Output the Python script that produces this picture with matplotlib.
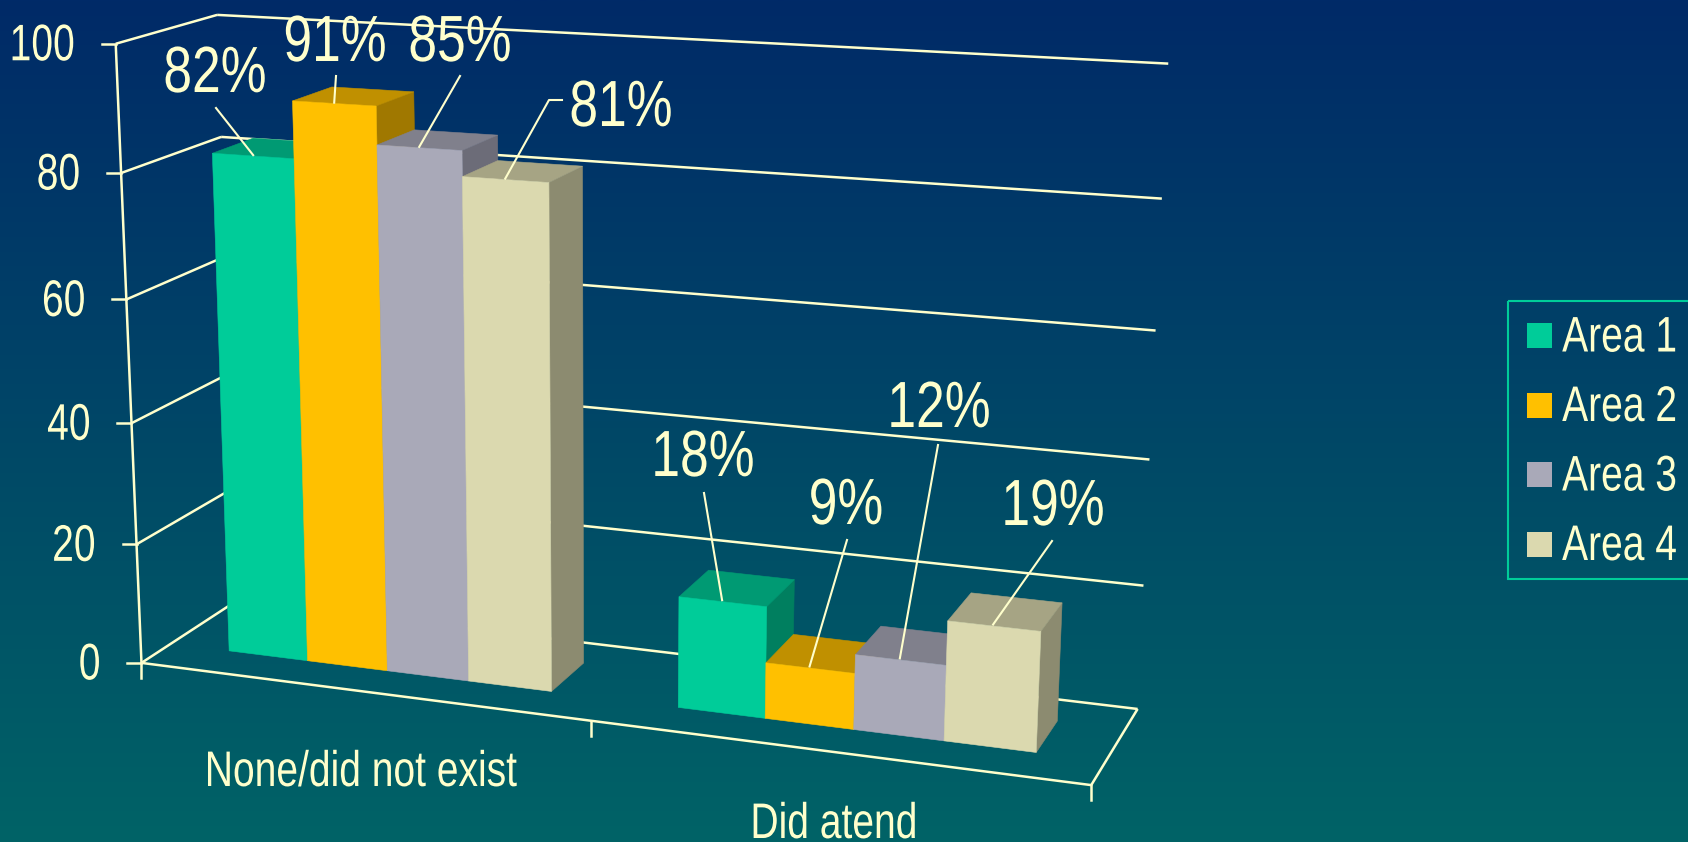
import numpy as np
import matplotlib
matplotlib.use("Agg")
import matplotlib.pyplot as plt
import matplotlib.patheffects as pe
from matplotlib.patches import Polygon, Rectangle
from matplotlib.transforms import Affine2D

plt.rcParams['font.family'] = ['Liberation Sans', 'DejaVu Sans']

categories = ['None/did not exist', 'Did atend']
series = ['Area 1', 'Area 2', 'Area 3', 'Area 4']
values = [[82, 91, 85, 81], [18, 9, 12, 19]]
yticks = [0, 20, 40, 60, 80, 100]

front_colors = ['#00CC99', '#FFC000', '#A9A9B8', '#DBD9AF']
top_colors = ['#009A73', '#C09000', '#80808C', '#A6A484']
side_colors = ['#007F5F', '#A07800', '#6C6C78', '#8C8B70']
ink = '#FFFFCC'

# camera calibration: box corner (category, depth, value) -> figure pixel
# the front left edge is listed three times, it carries the value axis
frame_world = np.array([[0, 0, 0], [2, 0, 0], [2, 1, 0], [0, 1, 0], [0, 0, 100], [0, 1, 100], [2, 1, 100],
                        [2, 1, 80], [0, 0, 80], [0, 0, 20], [2, 1, 20],
                        [0, 0, 0], [0, 0, 100], [0, 0, 0], [0, 0, 100]], dtype=float)
frame_pix = np.array([[142.7, 662], [1090.7, 788], [1138, 706], [231, 604.5], [114.3, 44], [221.7, 14.7], [1168, 64],
                      [1161.7, 198.7], [121, 172], [138, 544], [1144, 585],
                      [142.7, 662], [114.3, 44], [142.7, 662], [114.3, 44]], dtype=float)


def fit_camera(world, pix):
    # linear fit, reweighted a few times so the error is close to pixel error
    weights = np.ones(len(world))
    for _ in range(8):
        rows = []
        for (x, y, z), (u, v), w in zip(world, pix, weights):
            rows.append(np.array([x, y, z, 1, 0, 0, 0, 0, -u * x, -u * y, -u * z, -u]) / w)
            rows.append(np.array([0, 0, 0, 0, x, y, z, 1, -v * x, -v * y, -v * z, -v]) / w)
        _, _, vt = np.linalg.svd(np.array(rows))
        cam = vt[-1].reshape(3, 4)
        weights = np.abs(cam[2] @ np.c_[world, np.ones(len(world))].T)
    return cam


camera = fit_camera(frame_world, frame_pix)


def project(x, y, z):
    p = camera @ np.array([x, y, z, 1.0])
    return p[0] / p[2], p[1] / p[2]


class Narrow(pe.AbstractPathEffect):
    # squeezes glyphs horizontally around the text anchor, gives an Arial Narrow look
    def __init__(self, anchor_x, squeeze, drop=0):
        super().__init__()
        self.anchor_x = anchor_x
        self.squeeze = squeeze
        self.drop = drop

    def draw_path(self, renderer, gc, tpath, affine, rgbFace=None):
        squeeze = Affine2D().translate(-self.anchor_x, -self.drop).scale(self.squeeze, 1).translate(self.anchor_x, 0)
        renderer.draw_path(gc, tpath, affine + squeeze, rgbFace)


def label(ax, x, y, s, size, squeeze=0.78, ha='center', drop=0):
    t = ax.text(x, y, s, color=ink, fontsize=size, ha=ha, va='center', zorder=6)
    t.set_path_effects([Narrow(x, squeeze, drop)])
    return t


def line3d(ax, a, b, lw=1.8):
    pa, pb = project(*a), project(*b)
    ax.plot([pa[0], pb[0]], [pa[1], pb[1]], color=ink, lw=lw, solid_capstyle='butt', zorder=2)


def face(ax, corners, color):
    pts = [project(*c) for c in corners]
    ax.add_patch(Polygon(pts, closed=True, facecolor=color, edgecolor=color, lw=0.4, zorder=3))


fig = plt.figure(figsize=(16.88, 8.42), dpi=100)
ax = fig.add_axes([0, 0, 1, 1])
ax.set_xlim(0, 1688)
ax.set_ylim(842, 0)
ax.axis('off')

# background gradient, navy at the top to teal at the bottom
top_rgb = np.array([0x00, 0x2A, 0x68]) / 255
bottom_rgb = np.array([0x00, 0x63, 0x66]) / 255
t = np.linspace(0, 1, 400)[:, None, None]
ramp = top_rgb[None, None, :] * (1 - t) + bottom_rgb[None, None, :] * t
ax.imshow(ramp, extent=[0, 1688, 842, 0], aspect='auto', zorder=0)

# walls and floor
digit_w = 21.7
for v in yticks:
    line3d(ax, (0, 0, v), (0, 1, v))
    line3d(ax, (0, 1, v), (2, 1, v))
    px, py = project(0, 0, v)
    ax.plot([px - 14, px], [py, py], color=ink, lw=1.8, zorder=2)
    # left anchored, the right edges still follow the slanted axis
    label(ax, px - 41 - len(str(v)) * digit_w, py + 3, str(v), 37, squeeze=0.76, ha='left')
line3d(ax, (0, 0, 0), (0, 0, 100))
line3d(ax, (0, 0, 0), (2, 0, 0))
line3d(ax, (2, 0, 0), (2, 1, 0))
for c in range(3):
    px, py = project(c, 0, 0)
    ax.plot([px, px], [py, py + 15], color=ink, lw=1.8, zorder=2)

# bars, drawn left to right so each one covers the side of the previous
bar_w = 0.182
depth0, depth1 = 0.30, 0.72
tips = []
for c, group in enumerate(values):
    start = c + 0.501 - 2 * bar_w
    for s, val in enumerate(group):
        x0, x1 = start + s * bar_w, start + (s + 1) * bar_w
        face(ax, [(x1, depth0, 0), (x1, depth1, 0), (x1, depth1, val), (x1, depth0, val)], side_colors[s])
        face(ax, [(x0, depth0, val), (x1, depth0, val), (x1, depth1, val), (x0, depth1, val)], top_colors[s])
        face(ax, [(x0, depth0, 0), (x1, depth0, 0), (x1, depth0, val), (x0, depth0, val)], front_colors[s])
        tips.append(project((x0 + x1) / 2 - 0.004, depth0 + 0.02, val))

# value labels with leader lines
label_xy = [(215, 75), (335, 44), (460, 44), (621, 109), (703, 459), (846, 507), (939, 410), (1053, 508)]
leader_xy = [(216, 108), (336, 76), (460, 76), (562, 100), (704, 493), (847, 540), (938, 445), (1052, 541)]
flat = [v for group in values for v in group]
for i, val in enumerate(flat):
    lx, ly = label_xy[i]
    label(ax, lx, ly, f'{val}%', 47, squeeze=0.79)
    sx, sy = leader_xy[i]
    tx, ty = tips[i]
    if i == 3:
        ax.plot([sx, sx - 13, tx], [sy, sy, ty], color=ink, lw=1.5, zorder=5)
    else:
        ax.plot([sx, tx], [sy, ty], color=ink, lw=1.5, zorder=5)

# category labels
label(ax, 361, 773, categories[0], 36, squeeze=0.78)
label(ax, 834, 815, categories[1], 36, squeeze=0.78, drop=10)

# legend box runs off the right edge
ax.add_patch(Rectangle((1508, 301), 200, 278, facecolor='none', edgecolor='#00CC99', lw=1.5, zorder=4))
for s, name in enumerate(series):
    yc = 335.5 + s * 69.5
    ax.add_patch(Rectangle((1527, yc - 12.5), 25, 25, facecolor=front_colors[s], edgecolor='none', zorder=4))
    label(ax, 1677, yc + 3, name, 36, squeeze=0.78, ha='right')

fig.savefig('out.png', dpi=100)
